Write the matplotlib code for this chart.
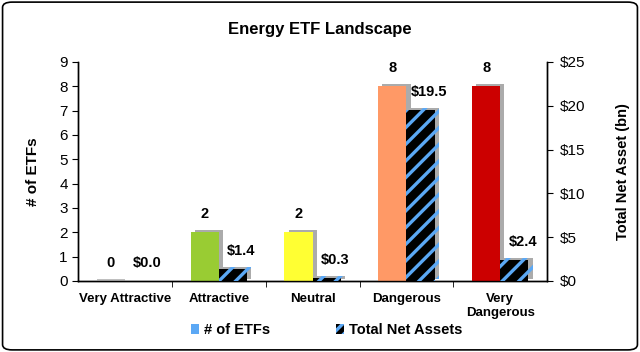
import matplotlib
matplotlib.use("Agg")
import matplotlib.pyplot as plt
import matplotlib.patheffects as pe
from matplotlib.patches import Patch, FancyBboxPatch
import numpy as np

plt.rcParams['font.family'] = ['Liberation Sans', 'DejaVu Sans']
plt.rcParams['hatch.linewidth'] = 2.4

categories = ["Very Attractive", "Attractive", "Neutral", "Dangerous", "Very\nDangerous"]
num_etfs = [0, 2, 2, 8, 8]
net_assets = [0.0, 1.4, 0.3, 19.5, 2.4]
count_labels = ["0", "2", "2", "8", "8"]
asset_labels = ["$0.0", "$1.4", "$0.3", "$19.5", "$2.4"]
bar_colors = ["#BFBFBF", "#99CC33", "#FFFF33", "#FF9966", "#CC0000"]
left_ticks = list(range(0, 10))
right_ticks = [0, 5, 10, 15, 20, 25]
right_ticklabels = ["$0", "$5", "$10", "$15", "$20", "$25"]

fig = plt.figure(figsize=(6.4, 3.52), dpi=100)
border = FancyBboxPatch((0.004, 0.006), 0.992, 0.988, boxstyle="round,pad=0,rounding_size=0.015",
                        transform=fig.transFigure, fill=False, edgecolor="black", linewidth=1.2)
fig.patches.append(border)

ax = fig.add_axes([0.122, 0.202, 0.733, 0.622])
ax2 = ax.twinx()

x = np.arange(len(categories))
w = 0.3
shadow = [pe.SimplePatchShadow(offset=(3, 1.5), shadow_rgbFace="#888888", alpha=0.7), pe.Normal()]

b1 = ax.bar(x - w / 2, num_etfs, width=w, color=bar_colors, linewidth=0, zorder=3)
for b in b1:
    b.set_path_effects(shadow)
# zero-value bar visible as thin line
ax.bar(x[0] - w / 2, 0.06, width=w, color="#BFBFBF", linewidth=0, zorder=3)

b2 = ax2.bar(x + w / 2, net_assets, width=w, facecolor="black", edgecolor="#5BA8F5",
             hatch="//", linewidth=0, zorder=3)
for b in b2:
    b.set_path_effects(shadow)

ax.set_xlim(-0.5, 4.5)
ax.set_ylim(0, 9)
ax2.set_ylim(0, 25)
ax.set_yticks(left_ticks)
ax2.set_yticks(right_ticks)
ax2.set_yticklabels(right_ticklabels)
ax.set_xticks(x)
ax.set_xticklabels(categories, fontsize=9.5, fontweight="bold")
ax.set_xticks(np.arange(0.5, 4.5, 1), minor=True)
ax.tick_params(axis="x", which="major", length=0, pad=9)
ax.tick_params(axis="x", which="minor", length=4, direction="out")
ax.tick_params(axis="y", labelsize=11, length=4)
ax2.tick_params(axis="y", labelsize=11, length=4, pad=5)

for a in (ax, ax2):
    a.spines["top"].set_visible(False)
    for s in ("left", "right", "bottom"):
        a.spines[s].set_linewidth(1.0)

ax.set_ylabel("# of ETFs", fontsize=11, fontweight="bold", labelpad=14)
ax2.set_ylabel("Total Net Asset (bn)", fontsize=10.5, fontweight="bold", labelpad=22)

fig.text(0.5, 0.915, "Energy ETF Landscape", ha="center", va="center", fontsize=12, fontweight="bold")

for i in range(len(categories)):
    ax.annotate(count_labels[i], (x[i] - w / 2, num_etfs[i]), xytext=(0, 8), textcoords="offset points",
                ha="center", va="bottom", fontsize=10.5, fontweight="bold")
    ax2.annotate(asset_labels[i], (x[i] + w / 2, net_assets[i]), xytext=(6, 8), textcoords="offset points",
                 ha="center", va="bottom", fontsize=10.5, fontweight="bold")

handles = [Patch(facecolor="#5BA8F5", linewidth=0),
           Patch(facecolor="black", edgecolor="#5BA8F5", hatch="///", linewidth=0)]
fig.legend(handles, ["# of ETFs", "Total Net Assets"], loc="center", bbox_to_anchor=(0.51, 0.062),
           ncol=2, frameon=False, prop={"weight": "bold", "size": 10.5},
           handlelength=0.6, handleheight=0.6, handletextpad=0.3, columnspacing=4.5)

fig.savefig("out.png", dpi=100)
